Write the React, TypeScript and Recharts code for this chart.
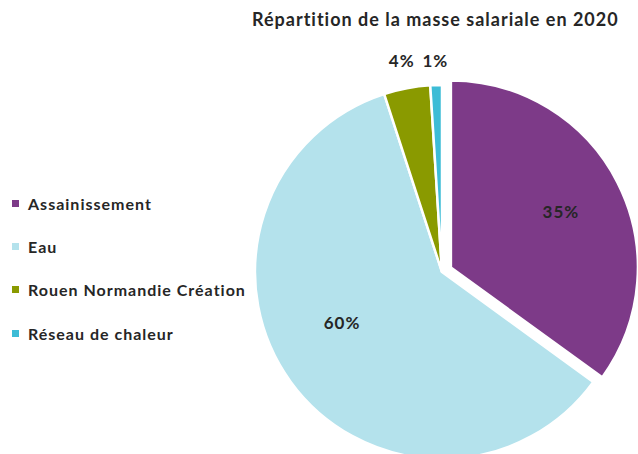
import { PieChart, Pie, Cell } from 'recharts';

const categories = ['Assainissement', 'Eau', 'Rouen Normandie Création', 'Réseau de chaleur'];
const shares = [35, 60, 4, 1];
const colors = ['#7D3A88', '#B4E2EC', '#8A9A00', '#3DBCD6'];

const W = 638;
const H = 454;
const CX = 442;
const CY = 272;
const R = 187;
const EXPLODE = 10;
const FONT = 'Lato, "Open Sans", sans-serif';
const RAD = Math.PI / 180;

const data = categories.map((name, i) => ({ name, value: shares[i] }));
const total = shares.reduce((a, b) => a + b, 0);

// first slice is pulled out along its bisector (clockwise from 12 o'clock)
const mid0 = (shares[0] / total) * Math.PI;
const EX = CX + EXPLODE * Math.sin(mid0);
const EY = CY - EXPLODE * Math.cos(mid0);

// label distance (fraction of radius) and small angle nudge like excel's best fit
const labelDist = [0.66, 0.6, 1.15, 1.13];
const labelNudge = [0, -9, 0, 0];

const makeLabel = (show: (i: number) => boolean) => (p: any) => {
  if (!show(p.index)) return null;
  const a = (p.midAngle + labelNudge[p.index]) * RAD;
  const r = p.outerRadius * labelDist[p.index];
  const x = p.cx + r * Math.cos(-a);
  const y = p.cy + r * Math.sin(-a);
  return (
    <text x={x} y={y} textAnchor="middle" dominantBaseline="central"
      fontFamily={FONT} fontWeight={700} fontSize={17} letterSpacing={1} fill="#262626">
      {`${shares[p.index]}%`}
    </text>
  );
};

export default function App() {
  return (
    <div style={{ position: 'absolute', left: 0, top: 0, width: W, height: H, background: '#fff', overflow: 'hidden' }}>
      <div style={{
        position: 'absolute', left: 252, top: 8, fontFamily: FONT, fontWeight: 700,
        fontSize: 18, letterSpacing: 1, color: '#262626', whiteSpace: 'nowrap'
      }}>
        Répartition de la masse salariale en 2020
      </div>

      <div style={{ position: 'absolute', left: 12, top: 192, fontFamily: FONT, fontWeight: 700, fontSize: 16, letterSpacing: 1, color: '#262626' }}>
        {categories.map((c, i) => (
          <div key={c} style={{ display: 'flex', alignItems: 'center', height: 22.3, marginBottom: 21 }}>
            <div style={{ width: 7, height: 7, background: colors[i], marginRight: 9 }} />
            <span style={{ whiteSpace: 'nowrap' }}>{c}</span>
          </div>
        ))}
      </div>

      <PieChart width={W} height={H} margin={{ top: 0, right: 0, bottom: 0, left: 0 }}>
        <Pie data={data} dataKey="value" nameKey="name" cx={CX} cy={CY} outerRadius={R}
          startAngle={90} endAngle={-270} stroke="#fff" strokeWidth={2.5}
          labelLine={false} label={makeLabel(i => i !== 0)} isAnimationActive={false}>
          {data.map((d, i) => (
            <Cell key={d.name} fill={i === 0 ? 'transparent' : colors[i]} stroke={i === 0 ? 'none' : '#fff'} />
          ))}
        </Pie>
        <Pie data={data} dataKey="value" nameKey="name" cx={EX} cy={EY} outerRadius={R}
          startAngle={90} endAngle={-270} stroke="#fff" strokeWidth={2.5} legendType="none"
          labelLine={false} label={makeLabel(i => i === 0)} isAnimationActive={false}>
          {data.map((d, i) => (
            <Cell key={d.name} fill={i === 0 ? colors[i] : 'transparent'} stroke={i === 0 ? '#fff' : 'none'} />
          ))}
        </Pie>
      </PieChart>
    </div>
  );
}
